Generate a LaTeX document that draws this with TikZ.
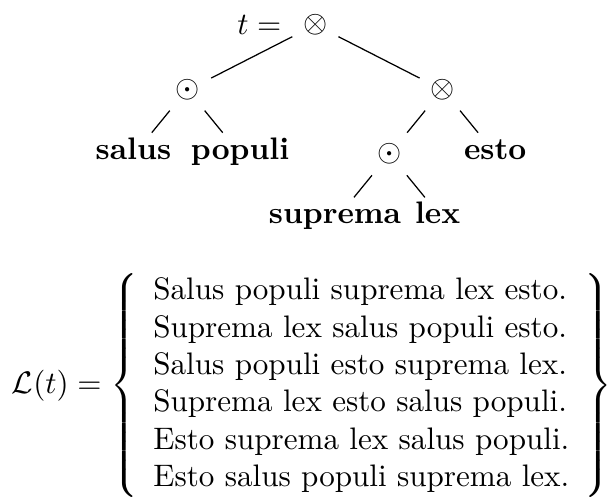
\documentclass[tikz,border=0pt]{standalone}
\usepackage{amsmath}
\begin{document}
\begin{tikzpicture}[x=1pt,y=-1pt,
  word/.style={font=\bfseries, anchor=base},
  edge/.style={line width=0.4pt}]
\useasboundingbox (0,0) rectangle (195.8,161.1);
% tree nodes
\node (root) at (101.4,8.0) {$\otimes$};
\node[anchor=east] (teq) at (root.west) {$t=$};
\node (l) at (60.2,28.7) {$\odot$};
\node (r) at (142.3,28.7) {$\otimes$};
\node[word] (salus) at (42.9,51.4) {salus};
\node[word] (populi) at (77.2,51.4) {populi};
\node (m) at (125.2,49.5) {$\odot$};
\node[word] (esto) at (159.2,51.4) {esto};
\node[word] (suprema) at (107.7,72.0) {suprema};
\node[word] (lex) at (140.7,72.0) {lex};
% edge ends near the children
\coordinate (l-in) at (67.9,25.1);
\coordinate (r-in) at (134.9,25.1);
\coordinate (salus-in) at (48.8,42.65);
\coordinate (populi-in) at (71.6,42.65);
\coordinate (m-in) at (130.9,42.65);
\coordinate (esto-in) at (153.7,42.65);
\coordinate (suprema-in) at (113.8,63.45);
\coordinate (lex-in) at (136.6,63.45);
\draw[edge] (root) -- (l-in);
\draw[edge] (root) -- (r-in);
\draw[edge] (l) -- (salus-in);
\draw[edge] (l) -- (populi-in);
\draw[edge] (r) -- (m-in);
\draw[edge] (r) -- (esto-in);
\draw[edge] (m) -- (suprema-in);
\draw[edge] (m) -- (lex-in);
% language
\node[anchor=base west, inner sep=0] (eq) at (3.6,126.5) {$\mathcal{L}(t) = \left\{ \begin{array}{l}
\text{Salus populi suprema lex esto.}\\
\text{Suprema lex salus populi esto.}\\
\text{Salus populi esto suprema lex.}\\
\text{Suprema lex esto salus populi.}\\
\text{Esto suprema lex salus populi.}\\
\text{Esto salus populi suprema lex.}
\end{array}\right\}$};
\end{tikzpicture}
\end{document}
